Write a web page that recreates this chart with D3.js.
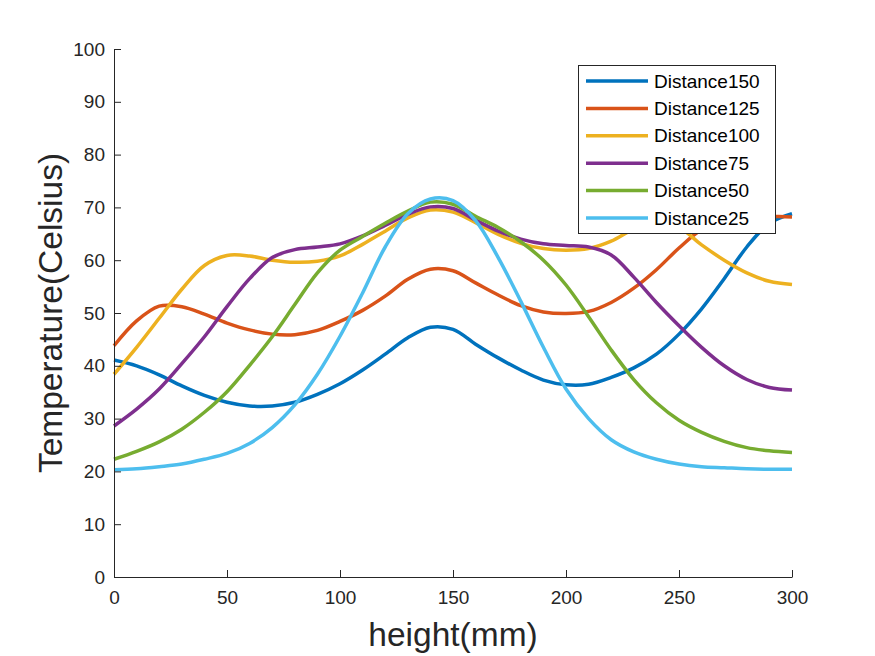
<!DOCTYPE html>
<html>
<head>
<meta charset="utf-8">
<script src="https://cdn.jsdelivr.net/npm/d3@7"></script>
<style>
  html, body { margin: 0; padding: 0; background: #fff; }
  svg { display: block; font-family: "Liberation Sans", Arial, Helvetica, sans-serif; }
</style>
</head>
<body>
<svg id="chart" width="875" height="656"></svg>
<script>
// ---- data ----
const heights = [0,10,20,30,40,50,60,70,80,90,100,110,120,130,140,150,160,170,180,190,200,210,220,230,240,250,260,270,280,290,300];
const seriesNames = ["Distance150","Distance125","Distance100","Distance75","Distance50","Distance25"];
const distance150 = [41.1,40.0,38.3,36.2,34.4,33.1,32.4,32.4,33.1,34.6,36.6,39.2,42.2,45.3,47.3,46.9,44.1,41.5,39.2,37.3,36.4,36.5,37.8,39.6,42.2,46.0,50.8,56.5,62.5,67.0,68.8];
const distance125 = [43.8,48.5,51.3,51.2,49.8,48.1,46.8,46.0,45.9,46.7,48.4,50.5,53.2,56.4,58.3,58.0,55.7,53.4,51.4,50.2,49.9,50.3,52.0,54.7,58.2,62.3,65.8,67.7,68.4,68.3,68.2];
const distance100 = [38.4,43.5,49.0,54.5,59.0,60.9,60.8,60.0,59.6,59.8,60.8,63.0,65.5,68.0,69.5,69.1,67.1,64.9,63.2,62.2,61.9,62.2,63.6,65.9,67.2,66.2,62.9,60.0,57.6,56.0,55.4];
const distance75  = [28.6,31.8,35.6,40.4,45.5,51.2,56.5,60.5,62.0,62.5,63.1,64.6,66.6,68.7,70.1,69.8,67.6,65.5,64.0,63.1,62.8,62.5,61.0,56.8,52.0,47.6,43.5,40.0,37.4,35.9,35.4];
const distance50  = [22.3,23.8,25.6,28.0,31.2,35.1,40.1,45.5,51.6,57.6,61.9,64.5,67.0,69.3,71.0,70.6,68.3,66.2,63.5,60.0,55.3,49.3,43.0,37.4,33.0,29.7,27.4,25.7,24.5,23.9,23.6];
const distance25  = [20.3,20.5,20.9,21.4,22.3,23.4,25.3,28.3,32.6,38.4,45.6,53.8,62.5,68.8,71.6,71.3,67.5,60.5,52.2,43.5,35.6,30.0,26.0,23.7,22.3,21.4,20.9,20.7,20.5,20.4,20.4];
const xTicks = [0,50,100,150,200,250,300];
const yTicks = [0,10,20,30,40,50,60,70,80,90,100];
const xLabel = "height(mm)";
const yLabel = "Temperature(Celsius)";

// ---- styles ----
const colors = ["#0072BD","#D95319","#EDB120","#7E2F8E","#77AC30","#4DBEEE"];
const allSeries = [distance150, distance125, distance100, distance75, distance50, distance25];
const axisColor = "#262626";

const svg = d3.select("#chart");
const L = 114, R = 792, T = 49, B = 577;

const x = d3.scaleLinear().domain([0, 300]).range([L, R]);
const y = d3.scaleLinear().domain([0, 100]).range([B, T]);

// lines
const line = d3.line()
  .x((d, i) => x(heights[i]))
  .y(d => y(d))
  .curve(d3.curveCatmullRom.alpha(0.5));

const plot = svg.append("g");
allSeries.forEach((vals, k) => {
  plot.append("path")
    .datum(vals)
    .attr("fill", "none")
    .attr("stroke", colors[k])
    .attr("stroke-width", 3.5)
    .attr("stroke-linejoin", "round")
    .attr("d", line);
});

// axes
const xAxis = svg.append("g")
  .attr("transform", `translate(0,${B})`)
  .call(d3.axisBottom(x).tickValues(xTicks).tickSizeInner(-7).tickSizeOuter(0).tickPadding(14));
const yAxis = svg.append("g")
  .attr("transform", `translate(${L},0)`)
  .call(d3.axisLeft(y).tickValues(yTicks).tickSizeInner(-7).tickSizeOuter(0).tickPadding(9));

[xAxis, yAxis].forEach(g => {
  g.select(".domain").attr("stroke", axisColor).attr("stroke-width", 1);
  g.selectAll(".tick line").attr("stroke", axisColor).attr("stroke-width", 1);
  g.selectAll(".tick text")
    .attr("fill", axisColor)
    .style("font-size", "19px")
    .style("font-family", "'Liberation Sans', Arial, Helvetica, sans-serif");
});

// axis labels
svg.append("text")
  .attr("x", (L + R) / 2)
  .attr("y", 646)
  .attr("text-anchor", "middle")
  .attr("fill", axisColor)
  .style("font-size", "33.5px")
  .text(xLabel);

svg.append("text")
  .attr("transform", `translate(62,${(T + B) / 2}) rotate(-90)`)
  .attr("text-anchor", "middle")
  .attr("fill", axisColor)
  .style("font-size", "33.5px")
  .text(yLabel);

// legend
const lg = svg.append("g");
const lgX = 578, lgY = 65, lgW = 197, lgH = 168;
lg.append("rect")
  .attr("x", lgX + 0.5).attr("y", lgY + 0.5)
  .attr("width", lgW).attr("height", lgH)
  .attr("fill", "#fff")
  .attr("stroke", axisColor)
  .attr("stroke-width", 1);
seriesNames.forEach((name, k) => {
  const cy = lgY + 16 + k * 27.4;
  lg.append("line")
    .attr("x1", lgX + 8).attr("x2", lgX + 70)
    .attr("y1", cy).attr("y2", cy)
    .attr("stroke", colors[k])
    .attr("stroke-width", 3.5);
  lg.append("text")
    .attr("x", lgX + 76)
    .attr("y", cy)
    .attr("dy", "0.35em")
    .attr("fill", "#000")
    .style("font-size", "19px")
    .text(name);
});
</script>
</body>
</html>
